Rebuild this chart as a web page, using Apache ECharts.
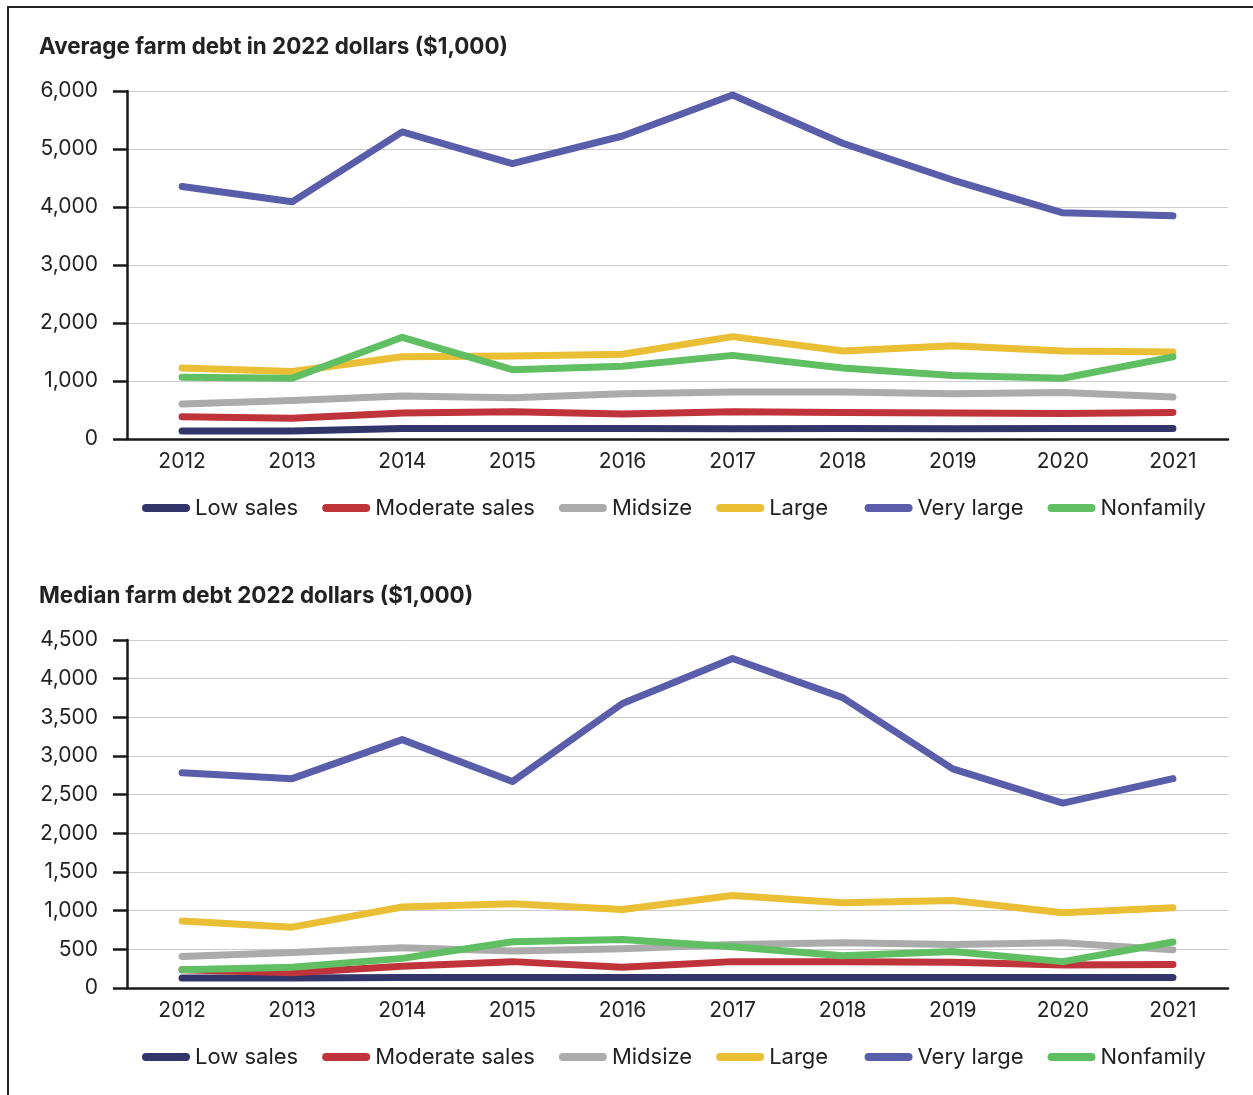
<!DOCTYPE html>
<html>
<head>
<meta charset="utf-8">
<title>Farm debt</title>
<script src="https://cdn.jsdelivr.net/npm/echarts@6/dist/echarts.min.js"></script>
<style>
html,body{margin:0;padding:0;background:#fff;overflow:hidden;}
#frame{position:absolute;left:7px;top:6px;right:0;bottom:0;border-top:2px solid #222;border-left:2px solid #222;}
#chart{position:absolute;left:0;top:0;width:1253px;height:1095px;}
</style>
</head>
<body>
<div id="frame"></div>
<div id="chart"></div>
<script>
var years = ['2012','2013','2014','2015','2016','2017','2018','2019','2020','2021'];
var groupNames = ['Low sales','Moderate sales','Midsize','Large','Very large','Nonfamily'];
var groupColors = ['#32346a','#bf333b','#ababab','#eabe35','#5a5da9','#60bf62'];

// average farm debt, $1,000 (2022 dollars)
var avgLowSales  = [136, 136, 180, 180, 180, 178, 180, 176, 180, 182];
var avgModerate  = [383, 358, 447, 471, 429, 471, 459, 447, 441, 459];
var avgMidsize   = [605, 665, 741, 711, 782, 812, 812, 782, 800, 724];
var avgLarge     = [1223, 1165, 1417, 1430, 1460, 1765, 1518, 1606, 1518, 1500];
var avgVeryLarge = [4354, 4089, 5295, 4748, 5224, 5930, 5100, 4465, 3900, 3848];
var avgNonfamily = [1064, 1047, 1753, 1195, 1253, 1442, 1223, 1094, 1047, 1417];

// median farm debt, $1,000 (2022 dollars)
var medLowSales  = [130, 130, 135, 135, 135, 135, 135, 135, 135, 135];
var medModerate  = [235, 197, 282, 341, 269, 341, 341, 332, 298, 303];
var medMidsize   = [408, 458, 521, 480, 509, 563, 585, 563, 585, 493];
var medLarge     = [866, 787, 1048, 1090, 1014, 1195, 1103, 1132, 973, 1039];
var medVeryLarge = [2783, 2707, 3212, 2669, 3679, 4260, 3755, 2833, 2391, 2707];
var medNonfamily = [235, 269, 383, 597, 626, 534, 417, 471, 341, 594];

var avgTicks = [0, 6000, 1000];
var medTicks = [0, 4500, 500];

var avgData = [avgLowSales, avgModerate, avgMidsize, avgLarge, avgVeryLarge, avgNonfamily];
var medData = [medLowSales, medModerate, medMidsize, medLarge, medVeryLarge, medNonfamily];

var font = 'Inter, "Noto Sans", sans-serif';
var ink = '#222';

function makeSeries(data, idx){
  var out = [];
  for (var i = 0; i < groupNames.length; i++) {
    out.push({
      name: groupNames[i],
      type: 'line',
      xAxisIndex: idx,
      yAxisIndex: idx,
      data: data[i],
      showSymbol: false,
      symbol: 'none',
      color: groupColors[i],
      lineStyle: {width: 7, cap: 'round', join: 'round', color: groupColors[i]},
      emphasis: {disabled: true},
      animation: false
    });
  }
  return out;
}

function yAxisOf(ticks, idx){
  return {
    type: 'value',
    gridIndex: idx,
    min: ticks[0],
    max: ticks[1],
    interval: ticks[2],
    axisLine: {show: true, lineStyle: {color: '#1a1a1a', width: 2.5}},
    axisTick: {show: true, length: 14, lineStyle: {color: '#1a1a1a', width: 2.5}},
    axisLabel: {
      margin: 29, color: ink, fontFamily: font, fontSize: 21,
      formatter: function(v){ return v.toLocaleString('en-US'); }
    },
    splitLine: {show: true, lineStyle: {color: '#cccccc', width: 1}}
  };
}

function xAxisOf(idx){
  return {
    type: 'category',
    gridIndex: idx,
    data: years,
    boundaryGap: true,
    axisLine: {show: true, lineStyle: {color: '#1a1a1a', width: 2.5}},
    axisTick: {show: false},
    axisLabel: {margin: 12, color: ink, fontFamily: font, fontSize: 21}
  };
}

function legendOf(top){
  return {
    top: top,
    left: 137,
    itemWidth: 48,
    itemHeight: 8,
    itemGap: 24,
    icon: 'path://M4,0 L44,0 A4,4 0 0 1 44,8 L4,8 A4,4 0 0 1 4,0 Z',
    data: groupNames,
    selectedMode: false,
    // "Large" has a wider gap after it in the reference
    formatter: function(n){ return n === 'Large' ? n + '\u00a0\u00a0' : n; },
    textStyle: {color: ink, fontFamily: font, fontSize: 22}
  };
}

function init(){
  var myChart = echarts.init(document.getElementById('chart'), null, {renderer: 'canvas'});
  var option = {
    backgroundColor: 'transparent',
    animation: false,
    title: [
      {text: 'Average farm debt in 2022 dollars ($1,000)', left: 34, top: 31,
       textStyle: {fontFamily: font, fontSize: 22.4, fontWeight: 700, color: ink}},
      {text: 'Median farm debt 2022 dollars ($1,000)', left: 34, top: 580,
       textStyle: {fontFamily: font, fontSize: 22.4, fontWeight: 700, color: ink}}
    ],
    grid: [
      {left: 127, right: 25, top: 91, height: 348},
      {left: 127, right: 25, top: 640, height: 348}
    ],
    xAxis: [xAxisOf(0), xAxisOf(1)],
    yAxis: [yAxisOf(avgTicks, 0), yAxisOf(medTicks, 1)],
    legend: [legendOf(492), legendOf(1041)],
    series: makeSeries(avgData, 0).concat(makeSeries(medData, 1))
  };
  myChart.setOption(option);
}
init();
</script>
</body>
</html>
